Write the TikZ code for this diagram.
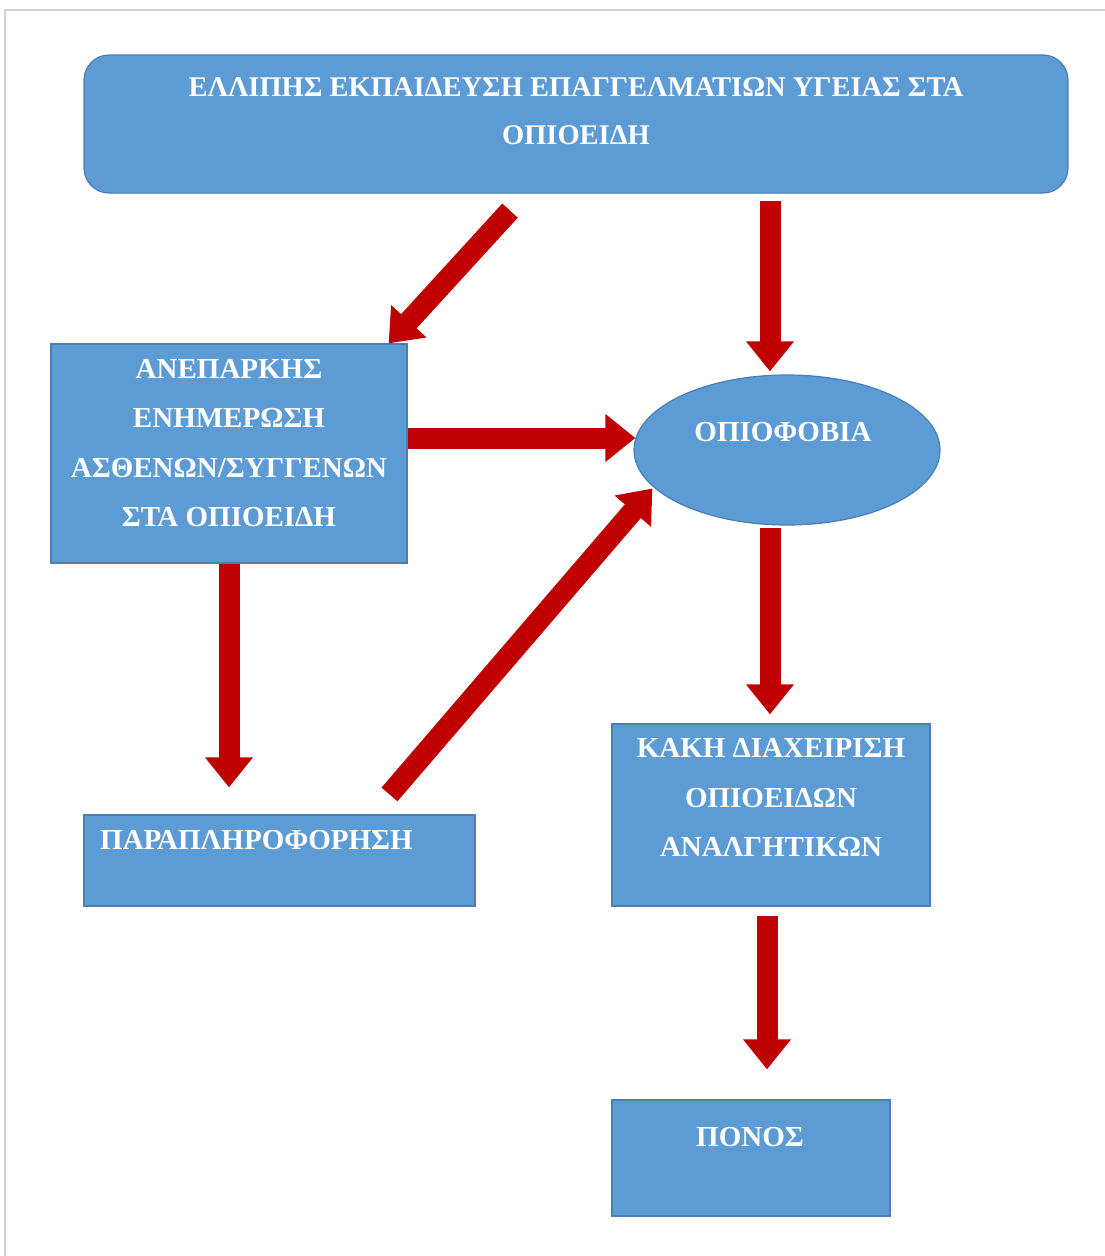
\documentclass[tikz,border=0pt]{standalone}
\usepackage{fontspec}
\setmainfont{Liberation Serif}
\usetikzlibrary{arrows.meta,shapes.geometric}
\definecolor{boxblue}{HTML}{5D9BD5}
\definecolor{boxedge}{HTML}{4A7EB5}
\definecolor{arrowred}{HTML}{C00000}
\tikzset{
  boxnode/.style={draw=boxedge, fill=boxblue, line width=1.2pt, inner sep=0pt},
  boxtext/.style={text=white, font=\bfseries\fontsize{29}{49.5}\selectfont, align=center, inner sep=0pt},
  bigarrow/.style={draw=arrowred, line width=21pt, -{Triangle[width=46pt,length=30pt]}},
}
\begin{document}
\begin{tikzpicture}[x=1pt,y=-1pt]
\useasboundingbox (0,0) rectangle (1105,1256);
% page edge
\draw[draw=gray!35, line width=2.5pt] (5,1256) -- (5,10) -- (1105,10);
% nodes
\node[boxnode, rounded corners=25pt, minimum width=984pt, minimum height=138pt] (top) at (576,124) {};
\node[boxtext, font=\bfseries\fontsize{28.5}{48}\selectfont] (toptext) at (576,111) {ΕΛΛΙΠΗΣ ΕΚΠΑΙΔΕΥΣΗ ΕΠΑΓΓΕΛΜΑΤΙΩΝ ΥΓΕΙΑΣ ΣΤΑ\\ΟΠΙΟΕΙΔΗ};
\node[boxnode, minimum width=356pt, minimum height=219pt] (b1) at (229,453.5) {};
\node[boxtext] (b1text) at (229,443) {ΑΝΕΠΑΡΚΗΣ\\ΕΝΗΜΕΡΩΣΗ\\ΑΣΘΕΝΩΝ/ΣΥΓΓΕΝΩΝ\\ΣΤΑ ΟΠΙΟΕΙΔΗ};
\node[boxnode, ellipse, minimum width=306pt, minimum height=150pt] (ell) at (787,450) {};
\node[boxtext] (elltext) at (783,432) {ΟΠΙΟΦΟΒΙΑ};
\node[boxnode, minimum width=391pt, minimum height=91pt] (b2) at (279.5,860.5) {};
\node[boxtext, anchor=west] (b2text) at (100,840) {ΠΑΡΑΠΛΗΡΟΦΟΡΗΣΗ};
\node[boxnode, minimum width=318pt, minimum height=182pt] (b3) at (771,815) {};
\node[boxtext] (b3text) at (771,797.5) {ΚΑΚΗ ΔΙΑΧΕΙΡΙΣΗ\\ΟΠΙΟΕΙΔΩΝ\\ΑΝΑΛΓΗΤΙΚΩΝ};
\node[boxnode, minimum width=278pt, minimum height=116pt] (b4) at (751,1158) {};
\node[boxtext] (b4text) at (750,1137) {ΠΟΝΟΣ};
% arrows
\draw[bigarrow] ([xshift=-66pt,yshift=-17pt]top.south) -- ([xshift=-19pt]b1.north east);
\draw[bigarrow] ([xshift=194pt,yshift=-7pt]top.south) -- ([xshift=-17pt,yshift=3pt]ell.north);
\draw[bigarrow] ([yshift=15.5pt]b1.east) -- ([xshift=2pt,yshift=12pt]ell.west);
\draw[bigarrow] ([xshift=110pt,yshift=20pt]b2.north) -- ([xshift=-26pt,yshift=15pt]ell.south west);
\draw[bigarrow] (b1.south) -- ([xshift=-50.5pt,yshift=27pt]b2.north);
\draw[bigarrow] ([xshift=-17pt,yshift=-2pt]ell.south) -- ([xshift=-1pt,yshift=9pt]b3.north);
\draw[bigarrow] ([xshift=-4pt,yshift=-9pt]b3.south) -- ([xshift=16pt,yshift=30pt]b4.north);
\end{tikzpicture}
\end{document}
